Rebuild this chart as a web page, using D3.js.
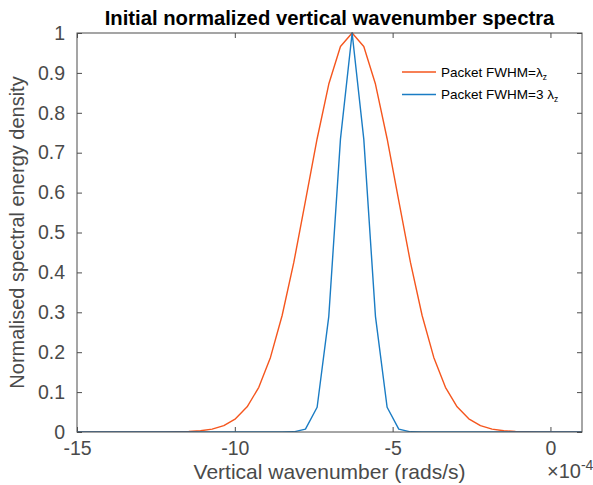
<!DOCTYPE html>
<html>
<head>
<meta charset="utf-8">
<script src="https://cdn.jsdelivr.net/npm/d3@7"></script>
<style>
  html, body { margin: 0; padding: 0; background: #fff; }
  svg { display: block; font-family: "Liberation Sans", Arial, Helvetica, sans-serif; }
</style>
</head>
<body>
<svg id="chart" width="593" height="485"></svg>
<script>
// Vertical wavenumber grid (units of 1e-4 rad/s)
const wavenumber = [
  -15.1536, -14.7840, -14.4144, -14.0448, -13.6752, -13.3056, -12.9360, -12.5664,
  -12.1968, -11.8272, -11.4576, -11.0880, -10.7184, -10.3488, -9.9792, -9.6096,
  -9.2400, -8.8704, -8.5008, -8.1312, -7.7616, -7.3920, -7.0224, -6.6528,
  -6.2832, -5.9136, -5.5440, -5.1744, -4.8048, -4.4352, -4.0656, -3.6960,
  -3.3264, -2.9568, -2.5872, -2.2176, -1.8480, -1.4784, -1.1088, -0.7392,
  -0.3696, 0.0000, 0.3696, 0.7392, 1.1088
];

// Normalised spectral energy density, packet FWHM = lambda_z
const spectrumWide = [
  0, 0, 0, 0, 0, 0, 0.00002, 0.00005,
  0.00016, 0.00046, 0.0012, 0.0031, 0.0073, 0.016, 0.033, 0.063,
  0.112, 0.187, 0.292, 0.425, 0.579, 0.735, 0.872, 0.966,
  1.0, 0.966, 0.872, 0.735, 0.579, 0.425, 0.292, 0.187,
  0.112, 0.063, 0.033, 0.016, 0.0073, 0.0031, 0.0012, 0.00046,
  0.00016, 0.00005, 0.00002, 0, 0
];

// Normalised spectral energy density, packet FWHM = 3 lambda_z
const spectrumNarrow = [
  0, 0, 0, 0, 0, 0, 0, 0,
  0, 0, 0, 0, 0, 0, 0, 0,
  0, 0, 0, 0.00044, 0.0071, 0.062, 0.290, 0.734,
  1.0, 0.734, 0.290, 0.062, 0.0071, 0.00044, 0, 0,
  0, 0, 0, 0, 0, 0, 0, 0,
  0, 0, 0, 0, 0
];

const xTicks = [-15, -10, -5, 0];
const yTicks = [0, 0.1, 0.2, 0.3, 0.4, 0.5, 0.6, 0.7, 0.8, 0.9, 1];

const svg = d3.select("#chart");
const margin = { left: 77, right: 11, top: 33, bottom: 53 };
const W = 593, H = 485;
const x0 = margin.left, x1 = W - margin.right;
const y0 = H - margin.bottom, y1 = margin.top;

const x = d3.scaleLinear().domain([-15, 1]).range([x0, x1]);
const y = d3.scaleLinear().domain([0, 1]).range([y0, y1]);

const axisColor = "#4d4d4d";
const textColor = "#4a4a4a";

// clip region for the curves
svg.append("defs").append("clipPath").attr("id", "plotClip")
  .append("rect").attr("x", x0).attr("y", y1 - 1).attr("width", x1 - x0).attr("height", y0 - y1 + 1);

// Axes (ticks inward, box on all four sides)
function styleAxis(g) {
  g.select(".domain").remove();
  g.selectAll(".tick line").attr("stroke", axisColor).attr("stroke-width", 1);
  g.selectAll(".tick text").attr("fill", textColor)
    .style("font-size", "19.5px").style("font-family", "Liberation Sans, Arial, sans-serif");
}

svg.append("g").attr("transform", `translate(0,${y0})`)
  .call(d3.axisBottom(x).tickValues(xTicks).tickSizeInner(-5).tickSizeOuter(0).tickPadding(9).tickFormat(d => String(d)))
  .call(styleAxis);
svg.append("g").attr("transform", `translate(0,${y1})`)
  .call(d3.axisTop(x).tickValues(xTicks).tickSizeInner(-5).tickSizeOuter(0).tickFormat(""))
  .call(styleAxis);
svg.append("g").attr("transform", `translate(${x0},0)`)
  .call(d3.axisLeft(y).tickValues(yTicks).tickSizeInner(-5).tickSizeOuter(0).tickPadding(12)
    .tickFormat(d => d === 0 ? "0" : d === 1 ? "1" : d3.format(".1f")(d)))
  .call(styleAxis);
svg.append("g").attr("transform", `translate(${x1},0)`)
  .call(d3.axisRight(y).tickValues(yTicks).tickSizeInner(-5).tickSizeOuter(0).tickFormat(""))
  .call(styleAxis);

// Curves
const line = d3.line().x((d, i) => x(wavenumber[i])).y(d => y(d));
const series = [
  { name: "wide", values: spectrumWide, color: "#f5561e" },
  { name: "narrow", values: spectrumNarrow, color: "#1a7cc4" }
];
svg.append("g").attr("clip-path", "url(#plotClip)")
  .selectAll("path").data(series).join("path")
  .attr("d", d => line(d.values))
  .attr("fill", "none")
  .attr("stroke", d => d.color)
  .attr("stroke-width", 1.4)
  .attr("stroke-linejoin", "round");

// Box
svg.append("rect").attr("x", x0).attr("y", y1).attr("width", x1 - x0).attr("height", y0 - y1)
  .attr("fill", "none").attr("stroke", axisColor).attr("stroke-width", 1);

// Title
svg.append("text").attr("x", (x0 + x1) / 2).attr("y", 25).attr("text-anchor", "middle")
  .style("font-size", "20.3px").style("font-weight", "bold").attr("fill", "#000")
  .text("Initial normalized vertical wavenumber spectra");

// Axis labels
svg.append("text").attr("x", (x0 + x1) / 2).attr("y", 479).attr("text-anchor", "middle")
  .style("font-size", "21px").attr("fill", textColor)
  .text("Vertical wavenumber (rads/s)");

svg.append("text").attr("transform", `translate(24,${(y0 + y1) / 2}) rotate(-90)`).attr("text-anchor", "middle")
  .style("font-size", "20px").attr("fill", textColor)
  .text("Normalised spectral energy density");

// Exponent label
const expo = svg.append("text").attr("x", 547).attr("y", 478).style("font-size", "20px").attr("fill", textColor);
expo.append("tspan").text("×10");
expo.append("tspan").attr("dy", -8).style("font-size", "14px").text("-4");

// Legend
const legendItems = [
  { label: "Packet FWHM=", sub: "z", prefix: "λ", color: series[0].color },
  { label: "Packet FWHM=3 ", sub: "z", prefix: "λ", color: series[1].color }
];
const lg = svg.append("g");
legendItems.forEach((d, i) => {
  const ly = 72 + i * 22.5;
  lg.append("line").attr("x1", 402).attr("x2", 436).attr("y1", ly).attr("y2", ly)
    .attr("stroke", d.color).attr("stroke-width", 1.6);
  const t = lg.append("text").attr("x", 441).attr("y", ly + 4.5)
    .style("font-size", "13.5px").attr("fill", "#000");
  t.append("tspan").text(d.label + d.prefix);
  t.append("tspan").attr("dy", 3).style("font-size", "8.5px").text(d.sub);
});
</script>
</body>
</html>
